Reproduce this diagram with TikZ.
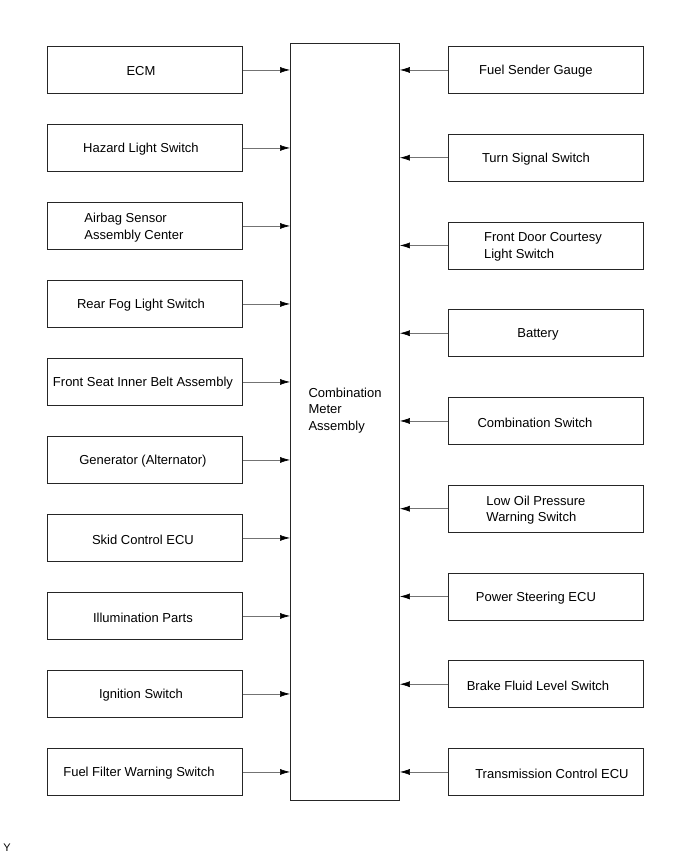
\documentclass[tikz,border=0pt]{standalone}
\usepackage{fontspec}
\setmainfont{Liberation Sans}
\usetikzlibrary{arrows.meta}
\begin{document}
\begin{tikzpicture}[x=1pt,y=-1pt,
  box/.style={draw=black!85, line width=0.9pt, minimum width=195pt, minimum height=47pt, anchor=north west, inner sep=0pt},
  lbl/.style={font=\fontsize{13}{16.5}\selectfont, align=left, inner sep=0pt},
  conn/.style={draw=black!55, line width=0.6pt, -{Latex[length=10pt,width=6pt,color=black]}}]
\useasboundingbox (0,0) rectangle (690,855);
\fill[white] (0,0) rectangle (690,855);
% center box
\node[draw=black!85, line width=0.9pt, minimum width=109pt, minimum height=757pt, anchor=north west, inner sep=0pt] (c) at (290,43) {};
\node[lbl] (ct) at (345,410.5) {Combination\\Meter\\Assembly};
% left boxes
\foreach \i/\y/\dx/\t in {1/46/-4/{ECM},2/124/-4/{Hazard Light Switch},3/202/-11/{Airbag Sensor\\Assembly Center},4/280/-4/{Rear Fog Light Switch},5/358/-2/{Front Seat Inner Belt Assembly},6/436/-2/{Generator (Alternator)},7/514/-2/{Skid Control ECU},8/592/-2/{Illumination Parts},9/670/-4/{Ignition Switch},10/748/-6/{Fuel Filter Warning Switch}}{
  \node[box] (l\i) at (47,\y) {};
  \node[lbl] (lt\i) at ([xshift=\dx pt, yshift=-1.5pt]l\i.center) {\t};
  \draw[conn] (l\i.east) -- (l\i.east -| c.west);
}
% right boxes
\foreach \i/\y/\dx/\t in {1/46/-10/{Fuel Sender Gauge},2/133.75/-10/{Turn Signal Switch},3/221.5/-3/{Front Door Courtesy\\Light Switch},4/309.25/-8/{Battery},5/397/-11/{Combination Switch},6/484.75/-10/{Low Oil Pressure\\Warning Switch},7/572.5/-10/{Power Steering ECU},8/660.25/-8/{Brake Fluid Level Switch},9/748/6/{Transmission Control ECU}}{
  \node[box] (r\i) at (448,\y) {};
  \node[lbl] (rt\i) at ([xshift=\dx pt, yshift=-1.5pt]r\i.center) {\t};
  \draw[conn] (r\i.west) -- (r\i.west -| c.east);
}
\node[font=\fontsize{11}{13}\selectfont, inner sep=0pt] (y) at (7,848) {Y};
\end{tikzpicture}
\end{document}
